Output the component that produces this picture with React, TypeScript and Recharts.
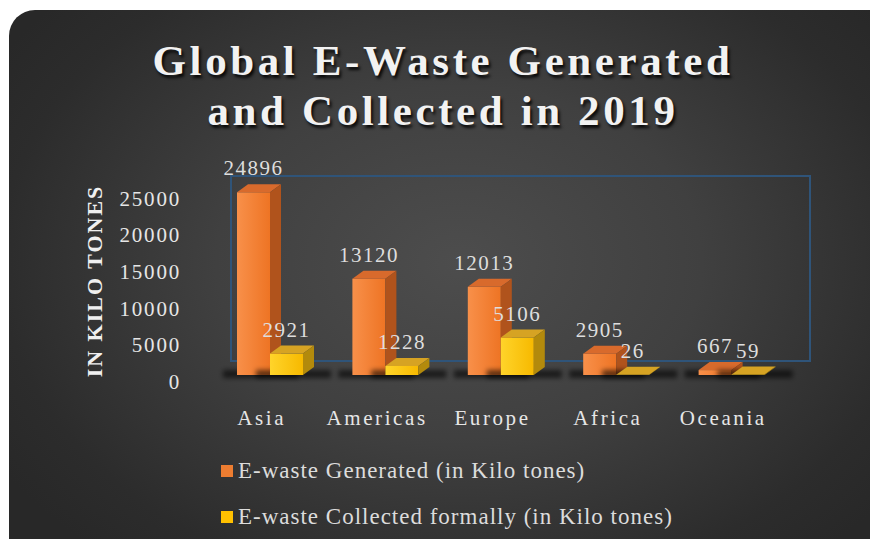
import { BarChart, Bar, XAxis, YAxis, LabelList, Legend } from 'recharts';

const REGIONS = ['Asia', 'Americas', 'Europe', 'Africa', 'Oceania'];
const GENERATED = [24896, 13120, 12013, 2905, 667];
const COLLECTED = [2921, 1228, 5106, 26, 59];
const Y_TICKS = [0, 5000, 10000, 15000, 20000, 25000];

const SERIES_KEYS = ['generated', 'collected'];
const SERIES_NAMES = {
  generated: 'E-waste Generated (in Kilo tones)',
  collected: 'E-waste Collected formally (in Kilo tones)',
};

const data = REGIONS.map((region, i) => ({
  region,
  generated: GENERATED[i],
  collected: COLLECTED[i],
}));

const FONT = "'Liberation Serif', 'DejaVu Serif', serif";
const DX = 11;
const DY = 8;

const PALETTE: Record<string, { front: string; top: string; side: string; swatch: string }> = {
  generated: { front: 'url(#orangeFront)', top: '#d86a2c', side: '#b0531c', swatch: '#ed7d31' },
  collected: { front: 'url(#yellowFront)', top: '#d6a323', side: '#b38a0c', swatch: '#ffc000' },
};

const make3D = (key: string) => (props: any) => {
  const { x, y, width, height } = props;
  const c = PALETTE[key];
  const h = Math.max(height, 0);
  const base = y + h;
  return (
    <g>
      <rect x={x - 14} y={base - 5} width={width + 42} height={8} fill="rgba(0,0,0,0.6)" filter="url(#floorBlur)" />
      <rect x={x} y={y} width={width} height={h} fill={c.front} />
      <polygon
        points={`${x},${y} ${x + DX},${y - DY} ${x + width + DX},${y - DY} ${x + width},${y}`}
        fill={c.top}
      />
      <polygon
        points={`${x + width},${y} ${x + width + DX},${y - DY} ${x + width + DX},${base - DY} ${x + width},${base}`}
        fill={c.side}
      />
    </g>
  );
};

const ValueLabel = (props: any) => {
  const { x, y, width, value } = props;
  return (
    <text
      x={x + width / 2}
      y={y - 17}
      textAnchor="middle"
      fill="#dedede"
      fontFamily={FONT}
      fontSize={21}
      letterSpacing={1.5}
    >
      {value}
    </text>
  );
};

const YTick = (props: any) => {
  const { y, payload } = props;
  return (
    <text x={181} y={y + 14} textAnchor="end" fill="#e6e6e6" fontFamily={FONT} fontSize={21} letterSpacing={1.8}>
      {payload.value}
    </text>
  );
};

const XTick = (props: any) => {
  const { x, y, payload } = props;
  return (
    <text x={x - 8} y={y + 42} textAnchor="middle" fill="#e6e6e6" fontFamily={FONT} fontSize={21} letterSpacing={2.6}>
      {payload.value}
    </text>
  );
};

const LegendContent = (props: any) => {
  const items = [...(props.payload || [])].sort(
    (a: any, b: any) => SERIES_KEYS.indexOf(a.dataKey) - SERIES_KEYS.indexOf(b.dataKey)
  );
  return (
    <div style={{ fontFamily: FONT }}>
      {items.map((item: any) => (
        <div key={item.dataKey} style={{ display: 'flex', alignItems: 'center', height: 46 }}>
          <span
            style={{
              display: 'inline-block',
              width: 12,
              height: 12,
              background: PALETTE[item.dataKey].swatch,
              marginRight: 5,
            }}
          />
          <span style={{ color: '#dcdcdc', fontSize: 23, letterSpacing: 1.0 }}>{item.value}</span>
        </div>
      ))}
    </div>
  );
};

export default function App() {
  return (
    <div style={{ position: 'fixed', left: 0, top: 0, width: 870, height: 539, overflow: 'hidden', background: '#fff' }}>
      <svg width={0} height={0} style={{ position: 'absolute' }}>
        <defs>
          <linearGradient id="orangeFront" x1="0" y1="0" x2="1" y2="0">
            <stop offset="0%" stopColor="#f8904a" />
            <stop offset="100%" stopColor="#ee7424" />
          </linearGradient>
          <linearGradient id="yellowFront" x1="0" y1="0" x2="1" y2="0">
            <stop offset="0%" stopColor="#ffd42a" />
            <stop offset="100%" stopColor="#f7b900" />
          </linearGradient>
          <filter id="floorBlur" x="-20%" y="-100%" width="140%" height="300%">
            <feGaussianBlur stdDeviation="2.5" />
          </filter>
        </defs>
      </svg>
      <div
        style={{
          position: 'absolute',
          left: 9,
          top: 10,
          width: 900,
          height: 600,
          borderRadius: 26,
          background: 'radial-gradient(ellipse 60% 65% at 50% 42%, #4d4d4d 0%, #404040 45%, #2c2c2c 85%, #282828 100%)',
        }}
      />
      <div
        style={{
          position: 'absolute',
          left: 0,
          top: 36,
          width: 886,
          textAlign: 'center',
          fontFamily: FONT,
          fontWeight: 'bold',
          fontSize: 43,
          lineHeight: '50px',
          letterSpacing: 3.6,
          color: '#f2f2f2',
          textShadow: '2px 3px 3px rgba(0,0,0,0.85)',
        }}
      >
        Global E-Waste Generated
        <br />
        and Collected in 2019
      </div>
      <div
        style={{
          position: 'absolute',
          left: 230,
          top: 175,
          width: 577,
          height: 183,
          border: '2px solid #2f5479',
        }}
      />
      <div style={{ position: 'absolute', left: 0, top: 0 }}>
        <BarChart
          width={870}
          height={539}
          data={data}
          margin={{ top: 191.5, right: 81, bottom: 124, left: 62 }}
          barSize={33}
          barGap={0}
        >
          <XAxis
            dataKey="region"
            axisLine={false}
            tickLine={false}
            height={40}
            tick={<XTick />}
            interval={0}
          />
          <YAxis
            domain={[0, 25000]}
            ticks={Y_TICKS}
            axisLine={false}
            tickLine={false}
            width={150}
            tick={<YTick />}
            label={{
              content: () => (
                <text
                  x={102}
                  y={281}
                  transform="rotate(-90 102 281)"
                  textAnchor="middle"
                  fill="#f0f0f0"
                  fontFamily={FONT}
                  fontWeight="bold"
                  fontSize={22}
                  letterSpacing={2}
                >
                  IN KILO TONES
                </text>
              ),
            }}
          />
          <Legend
            layout="vertical"
            verticalAlign="middle"
            align="center"
            content={<LegendContent />}
            wrapperStyle={{ top: 448, left: 221, width: 580 }}
          />
          <Bar
            dataKey="generated"
            name={SERIES_NAMES.generated}
            fill="#ed7d31"
            shape={make3D('generated')}
            isAnimationActive={false}
          >
            <LabelList dataKey="generated" content={<ValueLabel />} />
          </Bar>
          <Bar
            dataKey="collected"
            name={SERIES_NAMES.collected}
            fill="#ffc000"
            shape={make3D('collected')}
            isAnimationActive={false}
          >
            <LabelList dataKey="collected" content={<ValueLabel />} />
          </Bar>
        </BarChart>
      </div>
    </div>
  );
}
